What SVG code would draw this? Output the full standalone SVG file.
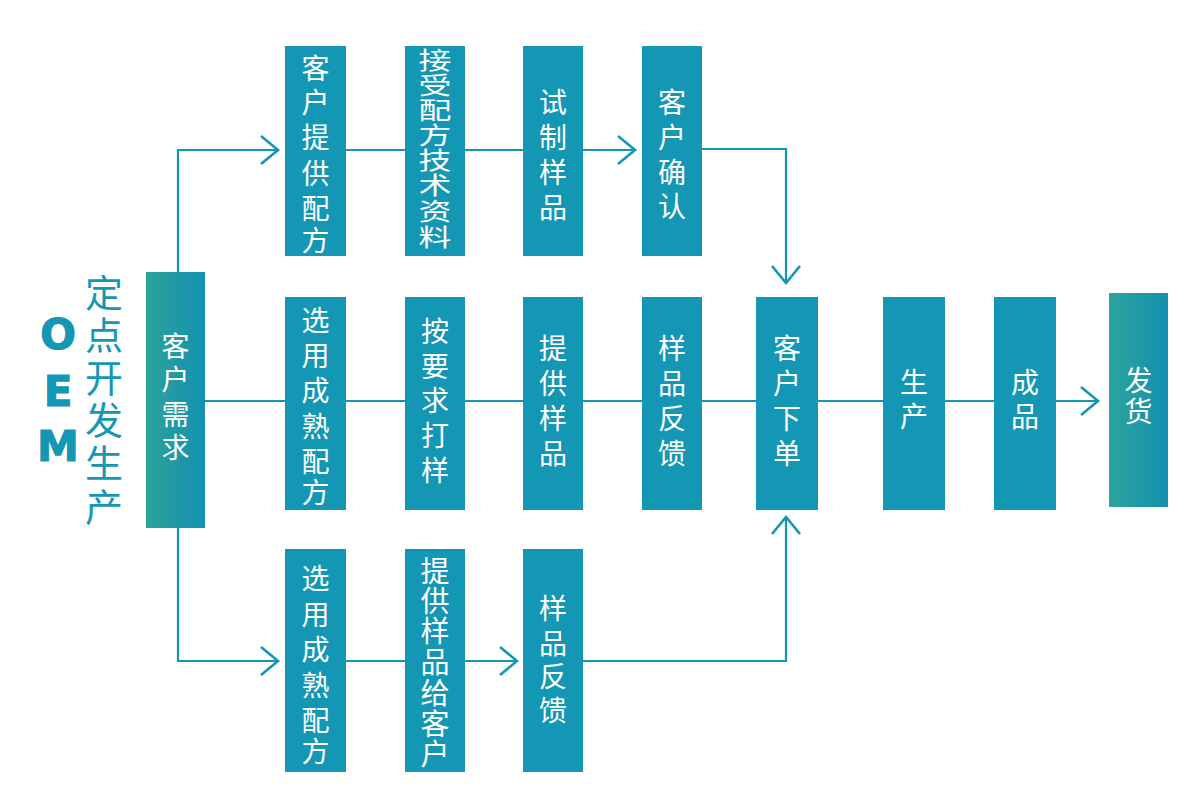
<svg xmlns="http://www.w3.org/2000/svg" width="1185" height="807" viewBox="0 0 1185 807">
<style>
.box{fill:#1497b5}
.gbox{fill:url(#grad)}
.t{font-family:"Noto Sans CJK SC","Noto Sans",sans-serif;font-size:28px;fill:#ffffff;text-anchor:middle;dominant-baseline:central}
.ln{fill:none;stroke:#1497b5;stroke-width:2.2}
.title{font-family:"Noto Sans CJK SC","Noto Sans",sans-serif;font-size:38px;fill:#1497b5;text-anchor:middle;dominant-baseline:central}
.oem{font-family:"DejaVu Sans","Liberation Sans",sans-serif;font-weight:bold;font-size:42px;fill:#1497b5;stroke:#1497b5;stroke-width:1.2;text-anchor:middle;dominant-baseline:central}
</style>
<defs>
<linearGradient id="grad" x1="0" y1="0" x2="1" y2="0">
<stop offset="0" stop-color="#2ca39b"/>
<stop offset="1" stop-color="#1390b0"/>
</linearGradient>
<marker id="arr" markerUnits="userSpaceOnUse" markerWidth="40" markerHeight="40" viewBox="-20 -20 40 40" refX="0" refY="0" orient="auto" overflow="visible">
<path d="M-17,-14 L0,0 L-17,14" fill="none" stroke="#1497b5" stroke-width="2.6"/>
</marker>
</defs>
<rect width="1185" height="807" fill="#ffffff"/>

<g id="title">
<text class="oem" x="58" y="334">O</text>
<text class="oem" x="58" y="391">E</text>
<text class="oem" x="58" y="446">M</text>
<text class="title" x="104" y="290">定</text>
<text class="title" x="104" y="332">点</text>
<text class="title" x="104" y="375">开</text>
<text class="title" x="104" y="417">发</text>
<text class="title" x="104" y="460">生</text>
<text class="title" x="104" y="504">产</text>
</g>

<g id="connectors">
<path class="ln" d="M178,272 V150 H278" marker-end="url(#arr)"/>
<path class="ln" d="M178,528 V661 H278" marker-end="url(#arr)"/>
<path class="ln" d="M346,150 H405 M465,150 H523"/>
<path class="ln" d="M583,150 H635" marker-end="url(#arr)"/>
<path class="ln" d="M702,149 H786 V283" marker-end="url(#arr)"/>
<path class="ln" d="M205,401 H1098" marker-end="url(#arr)"/>
<path class="ln" d="M346,661 H405"/>
<path class="ln" d="M465,661 H517" marker-end="url(#arr)"/>
<path class="ln" d="M583,661 H786 V517" marker-end="url(#arr)"/>
</g>

<g id="n_demand">
<rect class="gbox" x="146" y="272" width="59" height="256"/>
<text class="t" x="175.5" y="345">客</text>
<text class="t" x="175.5" y="378">户</text>
<text class="t" x="175.5" y="413">需</text>
<text class="t" x="175.5" y="446">求</text>
</g>

<g id="n_t1">
<rect class="box" x="285" y="46" width="61" height="210"/>
<text class="t" x="315.5" y="67">客</text>
<text class="t" x="315.5" y="101">户</text>
<text class="t" x="315.5" y="136">提</text>
<text class="t" x="315.5" y="172">供</text>
<text class="t" x="315.5" y="207">配</text>
<text class="t" x="315.5" y="239">方</text>
</g>

<g id="n_t2">
<rect class="box" x="405" y="46" width="60" height="210"/>
<g transform="translate(435,0) scale(1,0.74)">
<text class="t" style="font-size:33px" x="0" y="78">接</text>
<text class="t" style="font-size:33px" x="0" y="112">受</text>
<text class="t" style="font-size:33px" x="0" y="146">配</text>
<text class="t" style="font-size:33px" x="0" y="180">方</text>
<text class="t" style="font-size:33px" x="0" y="214">技</text>
<text class="t" style="font-size:33px" x="0" y="248">术</text>
<text class="t" style="font-size:33px" x="0" y="283">资</text>
<text class="t" style="font-size:33px" x="0" y="318">料</text>
</g>
</g>

<g id="n_t3">
<rect class="box" x="523" y="46" width="60" height="210"/>
<text class="t" x="553" y="101">试</text>
<text class="t" x="553" y="136">制</text>
<text class="t" x="553" y="171">样</text>
<text class="t" x="553" y="206">品</text>
</g>

<g id="n_t4">
<rect class="box" x="642" y="46" width="60" height="210"/>
<text class="t" x="672" y="101">客</text>
<text class="t" x="672" y="136">户</text>
<text class="t" x="672" y="171">确</text>
<text class="t" x="672" y="205">认</text>
</g>

<g id="n_m1">
<rect class="box" x="285" y="297" width="61" height="213"/>
<text class="t" x="315.5" y="319">选</text>
<text class="t" x="315.5" y="354">用</text>
<text class="t" x="315.5" y="389">成</text>
<text class="t" x="315.5" y="425">熟</text>
<text class="t" x="315.5" y="460">配</text>
<text class="t" x="315.5" y="491">方</text>
</g>

<g id="n_m2">
<rect class="box" x="405" y="297" width="60" height="213"/>
<text class="t" x="435" y="330">按</text>
<text class="t" x="435" y="365">要</text>
<text class="t" x="435" y="399">求</text>
<text class="t" x="435" y="434">打</text>
<text class="t" x="435" y="469">样</text>
</g>

<g id="n_m3">
<rect class="box" x="523" y="297" width="60" height="213"/>
<text class="t" x="553" y="347">提</text>
<text class="t" x="553" y="382">供</text>
<text class="t" x="553" y="417">样</text>
<text class="t" x="553" y="452">品</text>
</g>

<g id="n_m4">
<rect class="box" x="642" y="297" width="60" height="213"/>
<text class="t" x="672" y="347">样</text>
<text class="t" x="672" y="382">品</text>
<text class="t" x="672" y="417">反</text>
<text class="t" x="672" y="452">馈</text>
</g>

<g id="n_order">
<rect class="box" x="756" y="297" width="62" height="213"/>
<text class="t" x="787" y="347">客</text>
<text class="t" x="787" y="382">户</text>
<text class="t" x="787" y="417">下</text>
<text class="t" x="787" y="452">单</text>
</g>

<g id="n_prod">
<rect class="box" x="883" y="297" width="62" height="213"/>
<text class="t" x="914" y="381">生</text>
<text class="t" x="914" y="415">产</text>
</g>

<g id="n_done">
<rect class="box" x="994" y="297" width="62" height="213"/>
<text class="t" x="1025" y="381">成</text>
<text class="t" x="1025" y="415">品</text>
</g>

<g id="n_ship">
<rect class="gbox" x="1109" y="293" width="59" height="214"/>
<text class="t" x="1138.5" y="379">发</text>
<text class="t" x="1138.5" y="410">货</text>
</g>

<g id="n_b1">
<rect class="box" x="285" y="549" width="61" height="223"/>
<text class="t" x="315.5" y="577">选</text>
<text class="t" x="315.5" y="613">用</text>
<text class="t" x="315.5" y="648">成</text>
<text class="t" x="315.5" y="684">熟</text>
<text class="t" x="315.5" y="719">配</text>
<text class="t" x="315.5" y="750">方</text>
</g>

<g id="n_b2">
<rect class="box" x="405" y="549" width="60" height="223"/>
<text class="t" style="font-size:29px" x="435" y="569">提</text>
<text class="t" style="font-size:29px" x="435" y="599">供</text>
<text class="t" style="font-size:29px" x="435" y="629">样</text>
<text class="t" style="font-size:29px" x="435" y="660">品</text>
<text class="t" style="font-size:29px" x="435" y="691">给</text>
<text class="t" style="font-size:29px" x="435" y="722">客</text>
<text class="t" style="font-size:29px" x="435" y="752">户</text>
</g>

<g id="n_b3">
<rect class="box" x="523" y="549" width="60" height="223"/>
<text class="t" x="553" y="607">样</text>
<text class="t" x="553" y="642">品</text>
<text class="t" x="553" y="675">反</text>
<text class="t" x="553" y="709">馈</text>
</g>
</svg>
